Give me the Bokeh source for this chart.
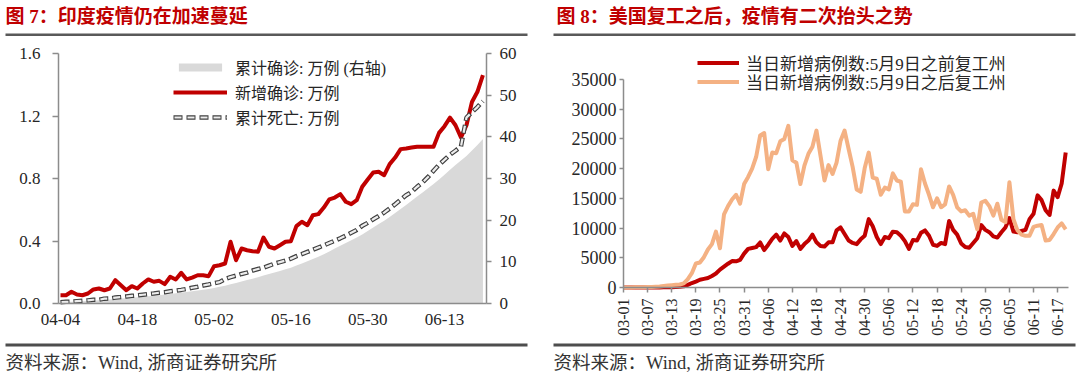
import numpy as np
import pandas as pd
from bokeh.plotting import figure
from bokeh.models import (Range1d, LinearAxis, DatetimeAxis, FixedTicker, Legend, LegendItem,
                          DatetimeTickFormatter, NumeralTickFormatter, Label)
from bokeh.layouts import row
from bokeh.embed import file_html
from bokeh.resources import INLINE

# ---------------- data ----------------
india_dates = pd.date_range("2020-04-04", "2020-06-20", freq="D")
# 新增确诊 (万例)
india_new = [0.053, 0.053, 0.075, 0.058, 0.053, 0.064, 0.090, 0.096, 0.085, 0.096,
             0.149, 0.117, 0.085, 0.111, 0.096, 0.128, 0.154, 0.139, 0.145, 0.124,
             0.171, 0.154, 0.196, 0.154, 0.166, 0.181, 0.181, 0.175, 0.239, 0.245,
             0.256, 0.395, 0.277, 0.352, 0.341, 0.335, 0.331, 0.422, 0.363, 0.352,
             0.373, 0.395, 0.399, 0.495, 0.523, 0.501, 0.565, 0.572, 0.614, 0.666,
             0.678, 0.700, 0.651, 0.636, 0.661, 0.747, 0.794, 0.838, 0.843, 0.821,
             0.892, 0.934, 0.988, 0.992, 0.998, 1.003, 1.003, 1.003, 1.003, 1.092,
             1.135, 1.190, 1.141, 1.062, 1.141, 1.290, 1.355, 1.461]
# 累计死亡 (万例)
india_deaths = [0.008, 0.011, 0.011, 0.015, 0.017, 0.020, 0.024, 0.024, 0.031, 0.032,
                0.038, 0.041, 0.045, 0.049, 0.052, 0.056, 0.060, 0.064, 0.069, 0.072,
                0.078, 0.082, 0.087, 0.093, 0.101, 0.107, 0.115, 0.122, 0.130, 0.137,
                0.157, 0.169, 0.178, 0.189, 0.198, 0.211, 0.221, 0.229, 0.242, 0.255,
                0.265, 0.275, 0.287, 0.303, 0.316, 0.330, 0.344, 0.358, 0.372, 0.387,
                0.402, 0.417, 0.434, 0.453, 0.471, 0.497, 0.516, 0.539, 0.560, 0.582,
                0.608, 0.635, 0.664, 0.693, 0.714, 0.747, 0.775, 0.810, 0.850, 0.888,
                0.920, 0.952, 0.978, 1.005, 1.190, 1.224, 1.257, 1.295]
# 累计确诊 (万例, 右轴)
india_cum = [0.307, 0.358, 0.428, 0.479, 0.527, 0.587, 0.676, 0.753, 0.845, 0.935,
             1.082, 1.193, 1.276, 1.384, 1.479, 1.612, 1.727, 1.860, 2.008, 2.170,
             2.308, 2.451, 2.650, 2.789, 2.944, 3.133, 3.305, 3.504, 3.734, 3.998,
             4.253, 4.643, 4.939, 5.295, 5.634, 5.966, 6.294, 6.715, 7.076, 7.428,
             7.800, 8.197, 8.594, 9.093, 9.617, 10.114, 10.675, 11.236, 11.845, 12.510,
             13.187, 13.885, 14.538, 15.177, 15.833, 16.580, 17.376, 18.214, 19.054, 19.871,
             20.762, 21.692, 22.677, 23.666, 24.663, 25.661, 26.660, 27.658, 28.658, 29.754,
             30.899, 32.092, 33.242, 34.309, 35.407, 36.695, 38.053, 39.505]
india_tick_dates = ["2020-04-04", "2020-04-18", "2020-05-02", "2020-05-16", "2020-05-30", "2020-06-13"]
india_left_ticks = [0, 0.4, 0.8, 1.2, 1.6]
india_right_ticks = [0, 10, 20, 30, 40, 50, 60]

us_dates = pd.date_range("2020-03-01", "2020-06-19", freq="D")
us_before = [0, 0, 0, 0, 5, 5, 10, 10, 15, 20,
             25, 35, 50, 70, 110, 200, 450, 750, 1000, 1300,
             1450, 1600, 1950, 2350, 3000, 3500, 4000, 4450, 4400, 4650,
             5700, 6500, 6650, 6800, 7580, 6300, 7200, 8200, 8900, 7900,
             9100, 8500, 7000, 7800, 6500, 7300, 7900, 8900, 7600, 7000,
             6900, 7600, 7600, 9600, 10100, 9000, 7900, 7500, 7300, 8100,
             8700, 11500, 10300, 8500, 7300, 8500, 8300, 9400, 9300, 8700,
             7800, 6500, 8000, 7900, 9200, 9600, 8700, 7200, 7000, 7500,
             7300, 11200, 9700, 8900, 7400, 6800, 6700, 7500, 8300, 10500,
             9700, 9300, 8600, 8400, 9300, 10100, 11700, 9400, 9300, 9500,
             9700, 11500, 12400, 15500, 14700, 13000, 12200, 16300, 15200, 17500, 22700]
us_after = [10, 15, 20, 30, 40, 50, 70, 90, 120, 160,
            250, 320, 400, 450, 500, 700, 1400, 2400, 4040, 4200,
            5100, 6400, 7300, 9400, 6600, 12300, 13700, 14800, 15600, 14100,
            17400, 18600, 20000, 22000, 25600, 26000, 19900, 22700, 22600, 24600,
            25000, 27200, 21400, 21000, 17400, 20500, 22500, 23700, 26400, 22200,
            18000, 20600, 19100, 21000, 24700, 26400, 23300, 20300, 16500, 16100,
            20100, 22700, 18500, 18300, 15600, 16800, 16500, 19200, 18000, 17800,
            12800, 12800, 14000, 13900, 19900, 17500, 15600, 13500, 15000, 13500,
            14000, 17000, 15600, 13500, 12800, 13000, 12100, 12400, 9800, 14300,
            14600, 13700, 12100, 14100, 11400, 11000, 17700, 11500, 9600, 8900,
            8700, 8700, 10200, 10400, 10500, 7900, 8000, 9000, 10100, 10800, 9800]
us_tick_dates = pd.date_range("2020-03-01", "2020-06-17", freq="6D")
us_y_ticks = [0, 5000, 10000, 15000, 20000, 25000, 30000, 35000]

left_title = "图 7：印度疫情仍在加速蔓延"
right_title = "图 8：美国复工之后，疫情有二次抬头之势"
source_text = "资料来源：Wind, 浙商证券研究所"
left_labels = ["累计确诊: 万例 (右轴)", "新增确诊: 万例", "累计死亡: 万例"]
right_labels = ["当日新增病例数:5月9日之前复工州", "当日新增病例数:5月9日之后复工州"]

# ---------------- styles ----------------
SERIF = "Liberation Serif"
MIX = "Liberation Serif, Noto Sans CJK SC"
RED = "#C00000"
ORANGE = "#F4B183"
GREY_AREA = "#D9D9D9"
AXIS_C = "#8C8C8C"
TXT_C = "#262626"
DAY_MS = 86400000.0
W, H = 540, 377


def ms(d):
    return pd.Timestamp(d).timestamp() * 1000.0


def style_axis(ax, size):
    ax.axis_line_color = AXIS_C
    ax.axis_line_width = 1.5
    ax.major_tick_line_color = AXIS_C
    ax.major_tick_line_width = 1.5
    ax.minor_tick_line_color = None
    ax.major_tick_in = 0
    ax.major_label_text_font = SERIF
    ax.major_label_text_font_size = size
    ax.major_label_text_color = TXT_C


def date_fmt():
    return DatetimeTickFormatter(days="%m-%d", months="%m-%d", years="%m-%d")


def base_fig(xr, yr):
    f = figure(width=W, height=H, x_range=xr, y_range=yr, min_border=0,
               toolbar_location=None, output_backend="svg",
               x_axis_type=None, y_axis_type=None, outline_line_color=None)
    f.grid.visible = False
    return f


def decorate(f, px, py, title, tx, lx0, lx1):
    # title, rule under title, footer rule and source note (page pixel positions)
    f.add_layout(Label(x=px(tx), y=py(16), text=title, text_font=MIX, text_font_style="bold",
                       text_font_size="19px", text_color=RED, text_baseline="middle"))
    f.quad(left=[px(lx0)], right=[px(lx1)], top=[py(33)], bottom=[py(35.5)],
           fill_color="#595959", line_color=None)
    f.quad(left=[px(lx0)], right=[px(lx1)], top=[py(343)], bottom=[py(346)],
           fill_color="#4D4D4D", line_color=None)
    f.add_layout(Label(x=px(lx0), y=py(362), text=source_text, text_font=MIX,
                       text_font_size="18.5px", text_color="#333333", text_baseline="middle"))


# ---------------- left chart ----------------
L_X0, L_PXD = 60.0, 5.486          # page x of first date, px per day
L_Y0, L_PXU = 303.0, 250.0 / 1.6   # page y of zero, px per unit (left axis)
L_PXU_R = 250.0 / 60               # px per unit (right axis)


def lpx(px):
    return ms(india_dates[0]) + (px - L_X0) / L_PXD * DAY_MS


def lpy(py):
    return (L_Y0 - py) / L_PXU


p1 = base_fig(Range1d(lpx(0), lpx(W)), Range1d(lpy(H), lpy(0)))
p1.extra_y_ranges = {"right": Range1d((L_Y0 - H) / L_PXU_R, L_Y0 / L_PXU_R)}

r_area = p1.varea(x=india_dates, y1=0, y2=india_cum, fill_color=GREY_AREA,
                  y_range_name="right")
r_new = p1.line(india_dates, india_new, line_color=RED, line_width=4, line_join="round")
r_d1 = p1.line(india_dates, india_deaths, line_color="#404040", line_width=4.5,
               line_dash="9 4", line_cap="butt")
r_d2 = p1.line(india_dates, india_deaths, line_color="#EDEDED", line_width=2.2,
               line_dash="7 6", line_dash_offset=-1, line_cap="butt")

xa = DatetimeAxis(fixed_location=0, bounds=(lpx(58), lpx(486)))
style_axis(xa, "17px")
xa.major_tick_out = 0
xa.ticker = FixedTicker(ticks=[ms(d) for d in india_tick_dates])
xa.formatter = date_fmt()
xa.major_label_standoff = 10
p1.add_layout(xa, "below")

ya = LinearAxis(fixed_location=lpx(58), bounds=(0, 1.6))
style_axis(ya, "17px")
ya.major_tick_out = 6
ya.ticker = FixedTicker(ticks=india_left_ticks)
ya.formatter = NumeralTickFormatter(format="0.0")
ya.major_label_standoff = 12
p1.add_layout(ya, "left")

ra = LinearAxis(y_range_name="right", fixed_location=lpx(486), bounds=(0, 60))
style_axis(ra, "17px")
ra.ticker = FixedTicker(ticks=india_right_ticks)
ra.major_tick_out = 5
ra.major_label_standoff = 8
p1.add_layout(ra, "right")

leg1 = Legend(items=[LegendItem(label=left_labels[0], renderers=[r_area]),
                     LegendItem(label=left_labels[1], renderers=[r_new]),
                     LegendItem(label=left_labels[2], renderers=[r_d1, r_d2])],
              location=(173, 248), orientation="vertical",
              glyph_width=54, glyph_height=10, label_height=20, spacing=1,
              padding=0, margin=0, label_standoff=8,
              label_text_font=MIX, label_text_font_size="16px", label_text_color=TXT_C,
              border_line_color=None, background_fill_alpha=0)
p1.add_layout(leg1)

decorate(p1, lpx, lpy, left_title, 5, 5, 527)

# ---------------- right chart ----------------
R_X0, R_PXD = 83.0, 4.02            # local page x of 03-01, px per day
R_Y0, R_PXU = 287.0, 208.0 / 35000  # page y of zero, px per case


def rpx(px):
    return ms(us_dates[0]) + (px - R_X0) / R_PXD * DAY_MS


def rpy(py):
    return (R_Y0 - py) / R_PXU


p2 = base_fig(Range1d(rpx(0), rpx(W)), Range1d(rpy(H), rpy(0)))

r_b = p2.line(us_dates, us_before, line_color=RED, line_width=4, line_join="round")
r_a = p2.line(us_dates, us_after, line_color=ORANGE, line_width=4, line_join="round")

xb = DatetimeAxis(fixed_location=0, bounds=(rpx(83), rpx(528)))
style_axis(xb, "16px")
xb.major_tick_out = 5
xb.ticker = FixedTicker(ticks=[ms(d) for d in us_tick_dates])
xb.formatter = date_fmt()
xb.major_label_orientation = np.pi / 2
xb.major_label_standoff = 6
p2.add_layout(xb, "below")

yb = LinearAxis(fixed_location=rpx(83), bounds=(0, 35000))
style_axis(yb, "18px")
yb.major_tick_out = 4
yb.ticker = FixedTicker(ticks=us_y_ticks)
yb.formatter = NumeralTickFormatter(format="0")
yb.major_label_standoff = 3
p2.add_layout(yb, "left")

leg_kw = dict(orientation="vertical", glyph_width=42, glyph_height=19, label_height=19,
              spacing=0, padding=0, margin=0, label_standoff=7,
              label_text_font=MIX, label_text_font_size="17px", label_text_color=TXT_C,
              border_line_color=None, background_fill_alpha=0)
leg2a = Legend(items=[LegendItem(label=right_labels[0], renderers=[r_b])],
               location=(157, 302), **leg_kw)
leg2b = Legend(items=[LegendItem(label=right_labels[1], renderers=[r_a])],
               location=(157, 283), **leg_kw)
p2.add_layout(leg2a)
p2.add_layout(leg2b)

decorate(p2, rpx, rpy, right_title, 16, 13, 535)

layout = row(p1, p2)
open("out.html", "w").write(file_html(layout, INLINE))
